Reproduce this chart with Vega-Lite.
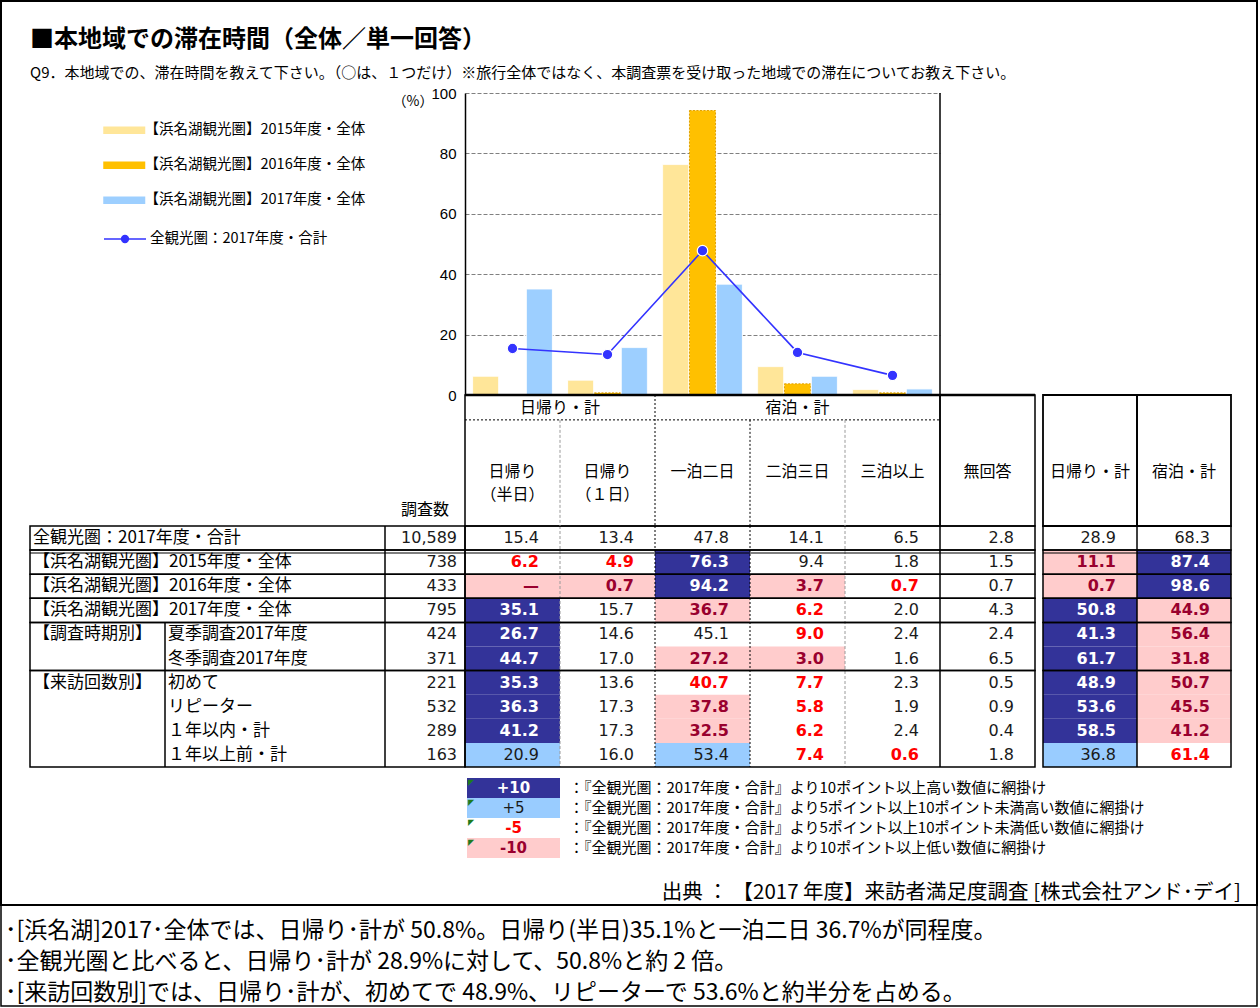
{
"$schema": "https://vega.github.io/schema/vega-lite/v6.json",
"width": 1260,
"height": 1008,
"autosize": "none",
"padding": 0,
"background": "#ffffff",
"config": {"font": "Noto Sans CJK JP", "view": {"stroke": null}},
"title": {
  "text": "■本地域での滞在時間（全体／単一回答）",
  "subtitle": "　　Q9．本地域での、滞在時間を教えて下さい。（○は、１つだけ）※旅行全体ではなく、本調査票を受け取った地域での滞在についてお教え下さい。",
  "anchor": "start", "frame": "group", "orient": "top", "offset": -81, "dx": 30,
  "font": "Noto Sans CJK JP", "fontSize": 24, "fontWeight": "bold", "color": "#000000",
  "subtitleFont": "Noto Sans CJK JP", "subtitleFontSize": 15, "subtitleColor": "#000000", "subtitlePadding": 14
},
"datasets": {
  "bars": [
    {"cat":"日帰り（半日）","series":"【浜名湖観光圏】2015年度・全体","v":6.2},
    {"cat":"日帰り（半日）","series":"【浜名湖観光圏】2016年度・全体","v":0},
    {"cat":"日帰り（半日）","series":"【浜名湖観光圏】2017年度・全体","v":35.1},
    {"cat":"日帰り（1日）","series":"【浜名湖観光圏】2015年度・全体","v":4.9},
    {"cat":"日帰り（1日）","series":"【浜名湖観光圏】2016年度・全体","v":0.7},
    {"cat":"日帰り（1日）","series":"【浜名湖観光圏】2017年度・全体","v":15.7},
    {"cat":"一泊二日","series":"【浜名湖観光圏】2015年度・全体","v":76.3},
    {"cat":"一泊二日","series":"【浜名湖観光圏】2016年度・全体","v":94.2},
    {"cat":"一泊二日","series":"【浜名湖観光圏】2017年度・全体","v":36.7},
    {"cat":"二泊三日","series":"【浜名湖観光圏】2015年度・全体","v":9.4},
    {"cat":"二泊三日","series":"【浜名湖観光圏】2016年度・全体","v":3.7},
    {"cat":"二泊三日","series":"【浜名湖観光圏】2017年度・全体","v":6.2},
    {"cat":"三泊以上","series":"【浜名湖観光圏】2015年度・全体","v":1.8},
    {"cat":"三泊以上","series":"【浜名湖観光圏】2016年度・全体","v":0.7},
    {"cat":"三泊以上","series":"【浜名湖観光圏】2017年度・全体","v":2.0}
  ],
  "line": [
    {"cat":"日帰り（半日）","series":"全観光圏：2017年度・合計","v":15.4},
    {"cat":"日帰り（1日）","series":"全観光圏：2017年度・合計","v":13.4},
    {"cat":"一泊二日","series":"全観光圏：2017年度・合計","v":47.8},
    {"cat":"二泊三日","series":"全観光圏：2017年度・合計","v":14.1},
    {"cat":"三泊以上","series":"全観光圏：2017年度・合計","v":6.5}
  ],
  "rows": [
    {"row":"全観光圏：2017年度・合計","a":"全観光圏：2017年度・合計","n":"10,589"},
    {"row":"【浜名湖観光圏】2015年度・全体","a":"【浜名湖観光圏】2015年度・全体","n":"738"},
    {"row":"【浜名湖観光圏】2016年度・全体","a":"【浜名湖観光圏】2016年度・全体","n":"433"},
    {"row":"【浜名湖観光圏】2017年度・全体","a":"【浜名湖観光圏】2017年度・全体","n":"795"},
    {"row":"夏季調査2017年度","a":"【調査時期別】","b":"夏季調査2017年度","n":"424"},
    {"row":"冬季調査2017年度","b":"冬季調査2017年度","n":"371"},
    {"row":"初めて","a":"【来訪回数別】","b":"初めて","n":"221"},
    {"row":"リピーター","b":"リピーター","n":"532"},
    {"row":"　１年以内・計","b":"　１年以内・計","n":"289"},
    {"row":"　１年以上前・計","b":"　１年以上前・計","n":"163"}
  ],
  "groups": [
    {"from":"全観光圏：2017年度・合計","to":"全観光圏：2017年度・合計"},
    {"from":"【浜名湖観光圏】2015年度・全体","to":"【浜名湖観光圏】2015年度・全体"},
    {"from":"【浜名湖観光圏】2016年度・全体","to":"【浜名湖観光圏】2016年度・全体"},
    {"from":"【浜名湖観光圏】2017年度・全体","to":"【浜名湖観光圏】2017年度・全体"},
    {"from":"夏季調査2017年度","to":"冬季調査2017年度"},
    {"from":"初めて","to":"　１年以上前・計"}
  ],
  "cells": [
    {"row":"全観光圏：2017年度・合計","col":"日帰り（半日）","v":"15.4","shade":"none"},
    {"row":"全観光圏：2017年度・合計","col":"日帰り（1日）","v":"13.4","shade":"none"},
    {"row":"全観光圏：2017年度・合計","col":"一泊二日","v":"47.8","shade":"none"},
    {"row":"全観光圏：2017年度・合計","col":"二泊三日","v":"14.1","shade":"none"},
    {"row":"全観光圏：2017年度・合計","col":"三泊以上","v":"6.5","shade":"none"},
    {"row":"全観光圏：2017年度・合計","col":"無回答","v":"2.8","shade":"none"},
    {"row":"【浜名湖観光圏】2015年度・全体","col":"日帰り（半日）","v":"6.2","shade":"-5"},
    {"row":"【浜名湖観光圏】2015年度・全体","col":"日帰り（1日）","v":"4.9","shade":"-5"},
    {"row":"【浜名湖観光圏】2015年度・全体","col":"一泊二日","v":"76.3","shade":"+10"},
    {"row":"【浜名湖観光圏】2015年度・全体","col":"二泊三日","v":"9.4","shade":"none"},
    {"row":"【浜名湖観光圏】2015年度・全体","col":"三泊以上","v":"1.8","shade":"none"},
    {"row":"【浜名湖観光圏】2015年度・全体","col":"無回答","v":"1.5","shade":"none"},
    {"row":"【浜名湖観光圏】2016年度・全体","col":"日帰り（半日）","v":"—","shade":"-10"},
    {"row":"【浜名湖観光圏】2016年度・全体","col":"日帰り（1日）","v":"0.7","shade":"-10"},
    {"row":"【浜名湖観光圏】2016年度・全体","col":"一泊二日","v":"94.2","shade":"+10"},
    {"row":"【浜名湖観光圏】2016年度・全体","col":"二泊三日","v":"3.7","shade":"-10"},
    {"row":"【浜名湖観光圏】2016年度・全体","col":"三泊以上","v":"0.7","shade":"-5"},
    {"row":"【浜名湖観光圏】2016年度・全体","col":"無回答","v":"0.7","shade":"none"},
    {"row":"【浜名湖観光圏】2017年度・全体","col":"日帰り（半日）","v":"35.1","shade":"+10"},
    {"row":"【浜名湖観光圏】2017年度・全体","col":"日帰り（1日）","v":"15.7","shade":"none"},
    {"row":"【浜名湖観光圏】2017年度・全体","col":"一泊二日","v":"36.7","shade":"-10"},
    {"row":"【浜名湖観光圏】2017年度・全体","col":"二泊三日","v":"6.2","shade":"-5"},
    {"row":"【浜名湖観光圏】2017年度・全体","col":"三泊以上","v":"2.0","shade":"none"},
    {"row":"【浜名湖観光圏】2017年度・全体","col":"無回答","v":"4.3","shade":"none"},
    {"row":"夏季調査2017年度","col":"日帰り（半日）","v":"26.7","shade":"+10"},
    {"row":"夏季調査2017年度","col":"日帰り（1日）","v":"14.6","shade":"none"},
    {"row":"夏季調査2017年度","col":"一泊二日","v":"45.1","shade":"none"},
    {"row":"夏季調査2017年度","col":"二泊三日","v":"9.0","shade":"-5"},
    {"row":"夏季調査2017年度","col":"三泊以上","v":"2.4","shade":"none"},
    {"row":"夏季調査2017年度","col":"無回答","v":"2.4","shade":"none"},
    {"row":"冬季調査2017年度","col":"日帰り（半日）","v":"44.7","shade":"+10"},
    {"row":"冬季調査2017年度","col":"日帰り（1日）","v":"17.0","shade":"none"},
    {"row":"冬季調査2017年度","col":"一泊二日","v":"27.2","shade":"-10"},
    {"row":"冬季調査2017年度","col":"二泊三日","v":"3.0","shade":"-10"},
    {"row":"冬季調査2017年度","col":"三泊以上","v":"1.6","shade":"none"},
    {"row":"冬季調査2017年度","col":"無回答","v":"6.5","shade":"none"},
    {"row":"初めて","col":"日帰り（半日）","v":"35.3","shade":"+10"},
    {"row":"初めて","col":"日帰り（1日）","v":"13.6","shade":"none"},
    {"row":"初めて","col":"一泊二日","v":"40.7","shade":"-5"},
    {"row":"初めて","col":"二泊三日","v":"7.7","shade":"-5"},
    {"row":"初めて","col":"三泊以上","v":"2.3","shade":"none"},
    {"row":"初めて","col":"無回答","v":"0.5","shade":"none"},
    {"row":"リピーター","col":"日帰り（半日）","v":"36.3","shade":"+10"},
    {"row":"リピーター","col":"日帰り（1日）","v":"17.3","shade":"none"},
    {"row":"リピーター","col":"一泊二日","v":"37.8","shade":"-10"},
    {"row":"リピーター","col":"二泊三日","v":"5.8","shade":"-5"},
    {"row":"リピーター","col":"三泊以上","v":"1.9","shade":"none"},
    {"row":"リピーター","col":"無回答","v":"0.9","shade":"none"},
    {"row":"　１年以内・計","col":"日帰り（半日）","v":"41.2","shade":"+10"},
    {"row":"　１年以内・計","col":"日帰り（1日）","v":"17.3","shade":"none"},
    {"row":"　１年以内・計","col":"一泊二日","v":"32.5","shade":"-10"},
    {"row":"　１年以内・計","col":"二泊三日","v":"6.2","shade":"-5"},
    {"row":"　１年以内・計","col":"三泊以上","v":"2.4","shade":"none"},
    {"row":"　１年以内・計","col":"無回答","v":"0.4","shade":"none"},
    {"row":"　１年以上前・計","col":"日帰り（半日）","v":"20.9","shade":"+5"},
    {"row":"　１年以上前・計","col":"日帰り（1日）","v":"16.0","shade":"none"},
    {"row":"　１年以上前・計","col":"一泊二日","v":"53.4","shade":"+5"},
    {"row":"　１年以上前・計","col":"二泊三日","v":"7.4","shade":"-5"},
    {"row":"　１年以上前・計","col":"三泊以上","v":"0.6","shade":"-5"},
    {"row":"　１年以上前・計","col":"無回答","v":"1.8","shade":"none"}
  ],
  "totals": [
    {"row":"全観光圏：2017年度・合計","col":"日帰り・計","v":"28.9","shade":"none"},
    {"row":"全観光圏：2017年度・合計","col":"宿泊・計","v":"68.3","shade":"none"},
    {"row":"【浜名湖観光圏】2015年度・全体","col":"日帰り・計","v":"11.1","shade":"-10"},
    {"row":"【浜名湖観光圏】2015年度・全体","col":"宿泊・計","v":"87.4","shade":"+10"},
    {"row":"【浜名湖観光圏】2016年度・全体","col":"日帰り・計","v":"0.7","shade":"-10"},
    {"row":"【浜名湖観光圏】2016年度・全体","col":"宿泊・計","v":"98.6","shade":"+10"},
    {"row":"【浜名湖観光圏】2017年度・全体","col":"日帰り・計","v":"50.8","shade":"+10"},
    {"row":"【浜名湖観光圏】2017年度・全体","col":"宿泊・計","v":"44.9","shade":"-10"},
    {"row":"夏季調査2017年度","col":"日帰り・計","v":"41.3","shade":"+10"},
    {"row":"夏季調査2017年度","col":"宿泊・計","v":"56.4","shade":"-10"},
    {"row":"冬季調査2017年度","col":"日帰り・計","v":"61.7","shade":"+10"},
    {"row":"冬季調査2017年度","col":"宿泊・計","v":"31.8","shade":"-10"},
    {"row":"初めて","col":"日帰り・計","v":"48.9","shade":"+10"},
    {"row":"初めて","col":"宿泊・計","v":"50.7","shade":"-10"},
    {"row":"リピーター","col":"日帰り・計","v":"53.6","shade":"+10"},
    {"row":"リピーター","col":"宿泊・計","v":"45.5","shade":"-10"},
    {"row":"　１年以内・計","col":"日帰り・計","v":"58.5","shade":"+10"},
    {"row":"　１年以内・計","col":"宿泊・計","v":"41.2","shade":"-10"},
    {"row":"　１年以上前・計","col":"日帰り・計","v":"36.8","shade":"+5"},
    {"row":"　１年以上前・計","col":"宿泊・計","v":"61.4","shade":"-5"}
  ],
  "colheads": [
    {"col":"日帰り（半日）","label":"日帰り\n（半日）"},
    {"col":"日帰り（1日）","label":"日帰り\n（１日）"},
    {"col":"一泊二日","label":"一泊二日"},
    {"col":"二泊三日","label":"二泊三日"},
    {"col":"三泊以上","label":"三泊以上"},
    {"col":"無回答","label":"無回答"}
  ],
  "key": [
    {"k":"+10","desc":"：『全観光圏：2017年度・合計』より10ポイント以上高い数値に網掛け"},
    {"k":"+5","desc":"：『全観光圏：2017年度・合計』より5ポイント以上10ポイント未満高い数値に網掛け"},
    {"k":"-5","desc":"：『全観光圏：2017年度・合計』より5ポイント以上10ポイント未満低い数値に網掛け"},
    {"k":"-10","desc":"：『全観光圏：2017年度・合計』より10ポイント以上低い数値に網掛け"}
  ],
  "notes": [
    {"line":"･[浜名湖]2017･全体では、日帰り･計が 50.8%。日帰り(半日)35.1%と一泊二日 36.7%が同程度。"},
    {"line":"･全観光圏と比べると、日帰り･計が 28.9%に対して、50.8%と約 2 倍。"},
    {"line":"･[来訪回数別]では、日帰り･計が、初めてで 48.9%、リピーターで 53.6%と約半分を占める。"}
  ]
},
"resolve": {"scale": {"x": "independent", "y": "independent", "fill": "independent", "color": "independent", "stroke": "independent"}},
"layer": [
  {"data": {"values": [{"part": "本体"}]},
   "mark": {"type": "rect", "filled": false, "stroke": "#000000", "strokeWidth": 2},
   "encoding": {
     "x": {"field": "part", "type": "nominal", "scale": {"type": "band", "domain": ["本体"], "range": [1, 1257], "padding": 0}, "axis": null},
     "y": {"field": "part", "type": "nominal", "scale": {"type": "band", "domain": ["本体"], "range": [1, 905], "padding": 0}, "axis": null}}},
  {"data": {"values": [{"part": "注記"}]},
   "mark": {"type": "rect", "filled": false, "stroke": "#000000", "strokeWidth": 1.5},
   "encoding": {
     "x": {"field": "part", "type": "nominal", "scale": {"type": "band", "domain": ["注記"], "range": [1, 1257], "padding": 0}, "axis": null},
     "y": {"field": "part", "type": "nominal", "scale": {"type": "band", "domain": ["注記"], "range": [905, 1006], "padding": 0}, "axis": null}}},

  {"layer": [
    {"data": {"name": "bars"},
     "mark": {"type": "bar", "strokeWidth": 1},
     "encoding": {
       "x": {"field": "cat", "type": "nominal", "scale": {"type": "band", "domain": ["日帰り（半日）","日帰り（1日）","一泊二日","二泊三日","三泊以上"], "range": [465, 940], "paddingInner": 0.16, "paddingOuter": 0.08}, "axis": null},
       "xOffset": {"field": "series", "type": "nominal", "scale": {"domain": ["【浜名湖観光圏】2015年度・全体","【浜名湖観光圏】2016年度・全体","【浜名湖観光圏】2017年度・全体"], "paddingInner": 0.03}},
       "y": {"field": "v", "type": "quantitative", "scale": {"domain": [0, 100], "range": [395, 93], "nice": false, "zero": true},
             "axis": {"orient": "left", "offset": -465, "values": [0,20,40,60,80,100], "grid": true, "gridColor": "#808080", "gridDash": [4,2], "gridWidth": 1, "ticks": false, "tickSize": 0, "domain": true, "domainColor": "#000000", "domainWidth": 1.5, "labelFont": "Liberation Sans", "labelFontSize": 15, "labelColor": "#000000", "labelPadding": 9, "title": "（%）", "titleFont": "Noto Sans CJK JP", "titleFontSize": 14, "titleFontWeight": "normal", "titleAngle": 0, "titleAlign": "right", "titleBaseline": "middle", "titleX": -32, "titleY": 101, "titleColor": "#000000"}},
       "fill": {"field": "series", "type": "nominal", "scale": {"domain": ["【浜名湖観光圏】2015年度・全体","【浜名湖観光圏】2016年度・全体","【浜名湖観光圏】2017年度・全体"], "range": ["#ffe699","#ffc000","#9dcfff"]},
                "legend": {"orient": "none", "legendX": 117, "legendY": 123, "title": null, "symbolType": "M-3,-0.55H3V0.55H-3Z", "symbolSize": 196, "symbolStrokeWidth": 0, "labelFont": "Noto Sans CJK JP", "labelFontSize": 14.5, "labelColor": "#000000", "labelOffset": 13, "rowPadding": 20, "labelLimit": 400}},
       "stroke": {"condition": {"test": "datum.series === '【浜名湖観光圏】2016年度・全体'", "value": "#e0a000"}, "value": "#ffffff"},
       "strokeDash": {"condition": {"test": "datum.series === '【浜名湖観光圏】2016年度・全体'", "value": [2, 1.5]}, "value": [1, 0]}}},
    {"data": {"name": "line"},
     "mark": {"type": "line", "strokeWidth": 1.6},
     "encoding": {
       "x": {"field": "cat", "type": "nominal", "scale": {"type": "band", "domain": ["日帰り（半日）","日帰り（1日）","一泊二日","二泊三日","三泊以上"], "range": [465, 940], "paddingInner": 0.16, "paddingOuter": 0.08}, "axis": null},
       "y": {"field": "v", "type": "quantitative", "scale": {"domain": [0, 100], "range": [395, 93], "nice": false, "zero": true},
             "axis": {"orient": "left", "offset": -465, "values": [0,20,40,60,80,100], "grid": true, "gridColor": "#808080", "gridDash": [4,2], "gridWidth": 1, "ticks": false, "tickSize": 0, "domain": true, "domainColor": "#000000", "domainWidth": 1.5, "labelFont": "Liberation Sans", "labelFontSize": 15, "labelColor": "#000000", "labelPadding": 9, "title": "（%）", "titleFont": "Noto Sans CJK JP", "titleFontSize": 14, "titleFontWeight": "normal", "titleAngle": 0, "titleAlign": "right", "titleBaseline": "middle", "titleX": -32, "titleY": 101, "titleColor": "#000000"}},
       "stroke": {"field": "series", "type": "nominal", "scale": {"domain": ["全観光圏：2017年度・合計"], "range": ["#3333ff"]},
                  "legend": {"orient": "none", "legendX": 117, "legendY": 231, "title": null, "symbolType": "M-3,0H3M-0.5,0A0.5,0.5,0,1,1,0.5,0A0.5,0.5,0,1,1,-0.5,0Z", "symbolSize": 196, "symbolStrokeWidth": 1.3, "symbolStrokeColor": "#3333ff", "symbolFillColor": "#3333ff", "labelFont": "Noto Sans CJK JP", "labelFontSize": 14.5, "labelColor": "#000000", "labelOffset": 17, "labelLimit": 400}}}},
    {"data": {"name": "line"},
     "mark": {"type": "point", "filled": true, "color": "#3333ff", "stroke": "#ffffff", "strokeWidth": 1.2, "size": 110, "opacity": 1},
     "encoding": {
       "x": {"field": "cat", "type": "nominal", "scale": {"type": "band", "domain": ["日帰り（半日）","日帰り（1日）","一泊二日","二泊三日","三泊以上"], "range": [465, 940], "paddingInner": 0.16, "paddingOuter": 0.08}, "axis": null},
       "y": {"field": "v", "type": "quantitative", "scale": {"domain": [0, 100], "range": [395, 93], "nice": false, "zero": true},
             "axis": {"orient": "left", "offset": -465, "values": [0,20,40,60,80,100], "grid": true, "gridColor": "#808080", "gridDash": [4,2], "gridWidth": 1, "ticks": false, "tickSize": 0, "domain": true, "domainColor": "#000000", "domainWidth": 1.5, "labelFont": "Liberation Sans", "labelFontSize": 15, "labelColor": "#000000", "labelPadding": 9, "title": "（%）", "titleFont": "Noto Sans CJK JP", "titleFontSize": 14, "titleFontWeight": "normal", "titleAngle": 0, "titleAlign": "right", "titleBaseline": "middle", "titleX": -32, "titleY": 101, "titleColor": "#000000"}}}}
  ]},

  {"data": {"values": [{"col": "無回答"}]},
   "mark": {"type": "rule", "color": "#000000", "strokeWidth": 1.5},
   "encoding": {
     "x": {"field": "col", "type": "nominal", "bandPosition": 0, "scale": {"type":"band","domain":["日帰り（半日）","日帰り（1日）","一泊二日","二泊三日","三泊以上","無回答"],"range":[465,1035],"padding":0}, "axis": null},
     "y": {"datum": 0, "type": "quantitative", "scale": {"domain": [0, 100], "range": [395, 93], "nice": false, "zero": true}, "axis": null},
     "y2": {"datum": 100}}},

  {"layer": [
    {"data": {"name": "cells"},
     "mark": {"type": "rect"},
     "encoding": {
       "x": {"field": "col", "type": "nominal", "scale": {"type":"band","domain":["日帰り（半日）","日帰り（1日）","一泊二日","二泊三日","三泊以上","無回答"],"range":[465,1035],"padding":0}, "axis": null},
       "y": {"field": "row", "type": "nominal", "scale": {"type":"band","domain":["全観光圏：2017年度・合計","【浜名湖観光圏】2015年度・全体","【浜名湖観光圏】2016年度・全体","【浜名湖観光圏】2017年度・全体","夏季調査2017年度","冬季調査2017年度","初めて","リピーター","　１年以内・計","　１年以上前・計"],"range":[526,767],"padding":0}, "axis": null},
       "fill": {"field": "shade", "type": "nominal", "scale": {"domain": ["none","+10","+5","-5","-10"], "range": ["#ffffff","#333399","#99ccff","#ffffff","#ffcccc"]}, "legend": null}}},
    {"data": {"name": "cells"},
     "transform": [{"filter": "datum.shade === 'none' || datum.shade === '+5'"}],
     "mark": {"type": "text", "align": "right", "dx": -21, "font": "DejaVu Sans", "fontSize": 16},
     "encoding": {
       "x": {"field": "col", "type": "nominal", "bandPosition": 1, "scale": {"type":"band","domain":["日帰り（半日）","日帰り（1日）","一泊二日","二泊三日","三泊以上","無回答"],"range":[465,1035],"padding":0}, "axis": null},
       "y": {"field": "row", "type": "nominal", "scale": {"type":"band","domain":["全観光圏：2017年度・合計","【浜名湖観光圏】2015年度・全体","【浜名湖観光圏】2016年度・全体","【浜名湖観光圏】2017年度・全体","夏季調査2017年度","冬季調査2017年度","初めて","リピーター","　１年以内・計","　１年以上前・計"],"range":[526,767],"padding":0}, "axis": null},
       "text": {"field": "v"},
       "color": {"field": "shade", "type": "nominal", "scale": {"domain": ["none","+10","+5","-5","-10"], "range": ["#1a1a1a","#ffffff","#1a1a1a","#ff0000","#99002e"]}, "legend": null}}},
    {"data": {"name": "cells"},
     "transform": [{"filter": "datum.shade !== 'none' && datum.shade !== '+5'"}],
     "mark": {"type": "text", "align": "right", "dx": -21, "font": "DejaVu Sans", "fontSize": 16, "fontWeight": "bold"},
     "encoding": {
       "x": {"field": "col", "type": "nominal", "bandPosition": 1, "scale": {"type":"band","domain":["日帰り（半日）","日帰り（1日）","一泊二日","二泊三日","三泊以上","無回答"],"range":[465,1035],"padding":0}, "axis": null},
       "y": {"field": "row", "type": "nominal", "scale": {"type":"band","domain":["全観光圏：2017年度・合計","【浜名湖観光圏】2015年度・全体","【浜名湖観光圏】2016年度・全体","【浜名湖観光圏】2017年度・全体","夏季調査2017年度","冬季調査2017年度","初めて","リピーター","　１年以内・計","　１年以上前・計"],"range":[526,767],"padding":0}, "axis": null},
       "text": {"field": "v"},
       "color": {"field": "shade", "type": "nominal", "scale": {"domain": ["none","+10","+5","-5","-10"], "range": ["#1a1a1a","#ffffff","#1a1a1a","#ff0000","#99002e"]}, "legend": null}}},
    {"data": {"values": [{"col": "日帰り（1日）"}, {"col": "三泊以上"}]},
     "mark": {"type": "rule", "color": "#9a9a9a", "strokeDash": [3, 2], "strokeWidth": 1},
     "encoding": {
       "x": {"field": "col", "type": "nominal", "bandPosition": 0, "scale": {"type":"band","domain":["日帰り（半日）","日帰り（1日）","一泊二日","二泊三日","三泊以上","無回答"],"range":[465,1035],"padding":0}, "axis": null},
       "y": {"datum": "全観光圏：2017年度・合計", "type": "nominal", "bandPosition": 0, "scale": {"type":"band","domain":["全観光圏：2017年度・合計","【浜名湖観光圏】2015年度・全体","【浜名湖観光圏】2016年度・全体","【浜名湖観光圏】2017年度・全体","夏季調査2017年度","冬季調査2017年度","初めて","リピーター","　１年以内・計","　１年以上前・計"],"range":[526,767],"padding":0}, "axis": null},
       "y2": {"datum": "　１年以上前・計", "bandPosition": 1}}},
    {"data": {"values": [{"col": "一泊二日"}, {"col": "二泊三日"}]},
     "mark": {"type": "rule", "color": "#000000", "strokeDash": [2, 2], "strokeWidth": 1},
     "encoding": {
       "x": {"field": "col", "type": "nominal", "bandPosition": 0, "scale": {"type":"band","domain":["日帰り（半日）","日帰り（1日）","一泊二日","二泊三日","三泊以上","無回答"],"range":[465,1035],"padding":0}, "axis": null},
       "y": {"datum": "全観光圏：2017年度・合計", "type": "nominal", "bandPosition": 0, "scale": {"type":"band","domain":["全観光圏：2017年度・合計","【浜名湖観光圏】2015年度・全体","【浜名湖観光圏】2016年度・全体","【浜名湖観光圏】2017年度・全体","夏季調査2017年度","冬季調査2017年度","初めて","リピーター","　１年以内・計","　１年以上前・計"],"range":[526,767],"padding":0}, "axis": null},
       "y2": {"datum": "　１年以上前・計", "bandPosition": 1}}},
    {"data": {"name": "groups"},
     "mark": {"type": "rect", "filled": false, "stroke": "#000000", "strokeWidth": 1.5},
     "encoding": {
       "x": {"datum": "日帰り（半日）", "type": "nominal", "bandPosition": 0, "scale": {"type":"band","domain":["日帰り（半日）","日帰り（1日）","一泊二日","二泊三日","三泊以上","無回答"],"range":[465,1035],"padding":0}, "axis": null},
       "x2": {"datum": "無回答", "bandPosition": 1},
       "y": {"field": "from", "type": "nominal", "bandPosition": 0, "scale": {"type":"band","domain":["全観光圏：2017年度・合計","【浜名湖観光圏】2015年度・全体","【浜名湖観光圏】2016年度・全体","【浜名湖観光圏】2017年度・全体","夏季調査2017年度","冬季調査2017年度","初めて","リピーター","　１年以内・計","　１年以上前・計"],"range":[526,767],"padding":0}, "axis": null},
       "y2": {"field": "to", "bandPosition": 1}}},
    {"data": {"values": [{"col": "無回答"}]},
     "mark": {"type": "rule", "color": "#000000", "strokeWidth": 1.5},
     "encoding": {
       "x": {"field": "col", "type": "nominal", "bandPosition": 0, "scale": {"type":"band","domain":["日帰り（半日）","日帰り（1日）","一泊二日","二泊三日","三泊以上","無回答"],"range":[465,1035],"padding":0}, "axis": null},
       "y": {"datum": "全観光圏：2017年度・合計", "type": "nominal", "bandPosition": 0, "scale": {"type":"band","domain":["全観光圏：2017年度・合計","【浜名湖観光圏】2015年度・全体","【浜名湖観光圏】2016年度・全体","【浜名湖観光圏】2017年度・全体","夏季調査2017年度","冬季調査2017年度","初めて","リピーター","　１年以内・計","　１年以上前・計"],"range":[526,767],"padding":0}, "axis": null},
       "y2": {"datum": "　１年以上前・計", "bandPosition": 1}}},
    {"data": {"values": [{"row": "【浜名湖観光圏】2015年度・全体"}]},
     "mark": {"type": "rule", "color": "#000000", "strokeWidth": 1.2},
     "encoding": {
       "x": {"datum": "日帰り（半日）", "type": "nominal", "bandPosition": 0, "scale": {"type":"band","domain":["日帰り（半日）","日帰り（1日）","一泊二日","二泊三日","三泊以上","無回答"],"range":[465,1035],"padding":0}, "axis": null},
       "x2": {"datum": "無回答", "bandPosition": 1},
       "y": {"field": "row", "type": "nominal", "bandPosition": 0.12, "scale": {"type":"band","domain":["全観光圏：2017年度・合計","【浜名湖観光圏】2015年度・全体","【浜名湖観光圏】2016年度・全体","【浜名湖観光圏】2017年度・全体","夏季調査2017年度","冬季調査2017年度","初めて","リピーター","　１年以内・計","　１年以上前・計"],"range":[526,767],"padding":0}, "axis": null}}}
  ]},

  {"layer": [
    {"data": {"name": "totals"},
     "mark": {"type": "rect"},
     "encoding": {
       "x": {"field": "col", "type": "nominal", "scale": {"type":"band","domain":["日帰り・計","宿泊・計"],"range":[1043,1231],"padding":0}, "axis": null},
       "y": {"field": "row", "type": "nominal", "scale": {"type":"band","domain":["全観光圏：2017年度・合計","【浜名湖観光圏】2015年度・全体","【浜名湖観光圏】2016年度・全体","【浜名湖観光圏】2017年度・全体","夏季調査2017年度","冬季調査2017年度","初めて","リピーター","　１年以内・計","　１年以上前・計"],"range":[526,767],"padding":0}, "axis": null},
       "fill": {"field": "shade", "type": "nominal", "scale": {"domain": ["none","+10","+5","-5","-10"], "range": ["#ffffff","#333399","#99ccff","#ffffff","#ffcccc"]}, "legend": null}}},
    {"data": {"name": "totals"},
     "transform": [{"filter": "datum.shade === 'none' || datum.shade === '+5'"}],
     "mark": {"type": "text", "align": "right", "dx": -21, "font": "DejaVu Sans", "fontSize": 16},
     "encoding": {
       "x": {"field": "col", "type": "nominal", "bandPosition": 1, "scale": {"type":"band","domain":["日帰り・計","宿泊・計"],"range":[1043,1231],"padding":0}, "axis": null},
       "y": {"field": "row", "type": "nominal", "scale": {"type":"band","domain":["全観光圏：2017年度・合計","【浜名湖観光圏】2015年度・全体","【浜名湖観光圏】2016年度・全体","【浜名湖観光圏】2017年度・全体","夏季調査2017年度","冬季調査2017年度","初めて","リピーター","　１年以内・計","　１年以上前・計"],"range":[526,767],"padding":0}, "axis": null},
       "text": {"field": "v"},
       "color": {"field": "shade", "type": "nominal", "scale": {"domain": ["none","+10","+5","-5","-10"], "range": ["#1a1a1a","#ffffff","#1a1a1a","#ff0000","#99002e"]}, "legend": null}}},
    {"data": {"name": "totals"},
     "transform": [{"filter": "datum.shade !== 'none' && datum.shade !== '+5'"}],
     "mark": {"type": "text", "align": "right", "dx": -21, "font": "DejaVu Sans", "fontSize": 16, "fontWeight": "bold"},
     "encoding": {
       "x": {"field": "col", "type": "nominal", "bandPosition": 1, "scale": {"type":"band","domain":["日帰り・計","宿泊・計"],"range":[1043,1231],"padding":0}, "axis": null},
       "y": {"field": "row", "type": "nominal", "scale": {"type":"band","domain":["全観光圏：2017年度・合計","【浜名湖観光圏】2015年度・全体","【浜名湖観光圏】2016年度・全体","【浜名湖観光圏】2017年度・全体","夏季調査2017年度","冬季調査2017年度","初めて","リピーター","　１年以内・計","　１年以上前・計"],"range":[526,767],"padding":0}, "axis": null},
       "text": {"field": "v"},
       "color": {"field": "shade", "type": "nominal", "scale": {"domain": ["none","+10","+5","-5","-10"], "range": ["#1a1a1a","#ffffff","#1a1a1a","#ff0000","#99002e"]}, "legend": null}}},
    {"data": {"name": "groups"},
     "mark": {"type": "rect", "filled": false, "stroke": "#000000", "strokeWidth": 1.5},
     "encoding": {
       "x": {"datum": "日帰り・計", "type": "nominal", "bandPosition": 0, "scale": {"type":"band","domain":["日帰り・計","宿泊・計"],"range":[1043,1231],"padding":0}, "axis": null},
       "x2": {"datum": "宿泊・計", "bandPosition": 1},
       "y": {"field": "from", "type": "nominal", "bandPosition": 0, "scale": {"type":"band","domain":["全観光圏：2017年度・合計","【浜名湖観光圏】2015年度・全体","【浜名湖観光圏】2016年度・全体","【浜名湖観光圏】2017年度・全体","夏季調査2017年度","冬季調査2017年度","初めて","リピーター","　１年以内・計","　１年以上前・計"],"range":[526,767],"padding":0}, "axis": null},
       "y2": {"field": "to", "bandPosition": 1}}},
    {"data": {"values": [{"col": "宿泊・計"}]},
     "mark": {"type": "rule", "color": "#000000", "strokeWidth": 1.5},
     "encoding": {
       "x": {"field": "col", "type": "nominal", "bandPosition": 0, "scale": {"type":"band","domain":["日帰り・計","宿泊・計"],"range":[1043,1231],"padding":0}, "axis": null},
       "y": {"datum": "全観光圏：2017年度・合計", "type": "nominal", "bandPosition": 0, "scale": {"type":"band","domain":["全観光圏：2017年度・合計","【浜名湖観光圏】2015年度・全体","【浜名湖観光圏】2016年度・全体","【浜名湖観光圏】2017年度・全体","夏季調査2017年度","冬季調査2017年度","初めて","リピーター","　１年以内・計","　１年以上前・計"],"range":[526,767],"padding":0}, "axis": null},
       "y2": {"datum": "　１年以上前・計", "bandPosition": 1}}},
    {"data": {"values": [{"row": "【浜名湖観光圏】2015年度・全体"}]},
     "mark": {"type": "rule", "color": "#000000", "strokeWidth": 1.2},
     "encoding": {
       "x": {"datum": "日帰り・計", "type": "nominal", "bandPosition": 0, "scale": {"type":"band","domain":["日帰り・計","宿泊・計"],"range":[1043,1231],"padding":0}, "axis": null},
       "x2": {"datum": "宿泊・計", "bandPosition": 1},
       "y": {"field": "row", "type": "nominal", "bandPosition": 0.12, "scale": {"type":"band","domain":["全観光圏：2017年度・合計","【浜名湖観光圏】2015年度・全体","【浜名湖観光圏】2016年度・全体","【浜名湖観光圏】2017年度・全体","夏季調査2017年度","冬季調査2017年度","初めて","リピーター","　１年以内・計","　１年以上前・計"],"range":[526,767],"padding":0}, "axis": null}}}
  ]},

  {"resolve": {"scale": {"x": "independent"}},
   "layer": [
    {"data": {"name": "rows"},
     "transform": [{"filter": "datum.a"}],
     "mark": {"type": "text", "align": "left", "dx": 3, "font": "Noto Sans CJK JP", "fontSize": 17, "color": "#000000"},
     "encoding": {
       "x": {"datum": "区分", "type": "nominal", "bandPosition": 0, "scale": {"type": "band", "domain": ["区分"], "range": [30, 165], "padding": 0}, "axis": null},
       "y": {"field": "row", "type": "nominal", "scale": {"type":"band","domain":["全観光圏：2017年度・合計","【浜名湖観光圏】2015年度・全体","【浜名湖観光圏】2016年度・全体","【浜名湖観光圏】2017年度・全体","夏季調査2017年度","冬季調査2017年度","初めて","リピーター","　１年以内・計","　１年以上前・計"],"range":[526,767],"padding":0}, "axis": null},
       "text": {"field": "a"}}},
    {"data": {"name": "rows"},
     "transform": [{"filter": "datum.b"}],
     "mark": {"type": "text", "align": "left", "dx": 3, "font": "Noto Sans CJK JP", "fontSize": 17, "color": "#000000"},
     "encoding": {
       "x": {"datum": "内訳", "type": "nominal", "bandPosition": 0, "scale": {"type": "band", "domain": ["内訳"], "range": [165, 385], "padding": 0}, "axis": null},
       "y": {"field": "row", "type": "nominal", "scale": {"type":"band","domain":["全観光圏：2017年度・合計","【浜名湖観光圏】2015年度・全体","【浜名湖観光圏】2016年度・全体","【浜名湖観光圏】2017年度・全体","夏季調査2017年度","冬季調査2017年度","初めて","リピーター","　１年以内・計","　１年以上前・計"],"range":[526,767],"padding":0}, "axis": null},
       "text": {"field": "b"}}},
    {"data": {"name": "rows"},
     "mark": {"type": "text", "align": "right", "dx": -8, "font": "DejaVu Sans", "fontSize": 16, "color": "#1a1a1a"},
     "encoding": {
       "x": {"datum": "調査数", "type": "nominal", "bandPosition": 1, "scale": {"type": "band", "domain": ["調査数"], "range": [385, 465], "padding": 0}, "axis": null},
       "y": {"field": "row", "type": "nominal", "scale": {"type":"band","domain":["全観光圏：2017年度・合計","【浜名湖観光圏】2015年度・全体","【浜名湖観光圏】2016年度・全体","【浜名湖観光圏】2017年度・全体","夏季調査2017年度","冬季調査2017年度","初めて","リピーター","　１年以内・計","　１年以上前・計"],"range":[526,767],"padding":0}, "axis": null},
       "text": {"field": "n"}}},
    {"data": {"name": "groups"},
     "mark": {"type": "rect", "filled": false, "stroke": "#000000", "strokeWidth": 1.5},
     "encoding": {
       "x": {"datum": "区分", "type": "nominal", "bandPosition": 0, "scale": {"type": "band", "domain": ["区分", "内訳", "調査数"], "range": [30, 465], "padding": 0}, "axis": null},
       "x2": {"datum": "調査数", "bandPosition": 1},
       "y": {"field": "from", "type": "nominal", "bandPosition": 0, "scale": {"type":"band","domain":["全観光圏：2017年度・合計","【浜名湖観光圏】2015年度・全体","【浜名湖観光圏】2016年度・全体","【浜名湖観光圏】2017年度・全体","夏季調査2017年度","冬季調査2017年度","初めて","リピーター","　１年以内・計","　１年以上前・計"],"range":[526,767],"padding":0}, "axis": null},
       "y2": {"field": "to", "bandPosition": 1}}},
    {"data": {"values": [{"c": "調査数"}]},
     "mark": {"type": "rule", "color": "#000000", "strokeWidth": 1.5},
     "encoding": {
       "x": {"field": "c", "type": "nominal", "bandPosition": 0, "scale": {"type": "band", "domain": ["調査数"], "range": [385, 465], "padding": 0}, "axis": null},
       "y": {"datum": "全観光圏：2017年度・合計", "type": "nominal", "bandPosition": 0, "scale": {"type":"band","domain":["全観光圏：2017年度・合計","【浜名湖観光圏】2015年度・全体","【浜名湖観光圏】2016年度・全体","【浜名湖観光圏】2017年度・全体","夏季調査2017年度","冬季調査2017年度","初めて","リピーター","　１年以内・計","　１年以上前・計"],"range":[526,767],"padding":0}, "axis": null},
       "y2": {"datum": "　１年以上前・計", "bandPosition": 1}}},
    {"data": {"values": [{"c": "内訳"}]},
     "mark": {"type": "rule", "color": "#000000", "strokeWidth": 1.5},
     "encoding": {
       "x": {"field": "c", "type": "nominal", "bandPosition": 0, "scale": {"type": "band", "domain": ["内訳"], "range": [165, 385], "padding": 0}, "axis": null},
       "y": {"datum": "夏季調査2017年度", "type": "nominal", "bandPosition": 0, "scale": {"type":"band","domain":["全観光圏：2017年度・合計","【浜名湖観光圏】2015年度・全体","【浜名湖観光圏】2016年度・全体","【浜名湖観光圏】2017年度・全体","夏季調査2017年度","冬季調査2017年度","初めて","リピーター","　１年以内・計","　１年以上前・計"],"range":[526,767],"padding":0}, "axis": null},
       "y2": {"datum": "　１年以上前・計", "bandPosition": 1}}},
    {"data": {"values": [{"row": "【浜名湖観光圏】2015年度・全体"}]},
     "mark": {"type": "rule", "color": "#000000", "strokeWidth": 1.2},
     "encoding": {
       "x": {"datum": "区分", "type": "nominal", "bandPosition": 0, "scale": {"type": "band", "domain": ["区分", "内訳", "調査数"], "range": [30, 465], "padding": 0}, "axis": null},
       "x2": {"datum": "調査数", "bandPosition": 1},
       "y": {"field": "row", "type": "nominal", "bandPosition": 0.12, "scale": {"type":"band","domain":["全観光圏：2017年度・合計","【浜名湖観光圏】2015年度・全体","【浜名湖観光圏】2016年度・全体","【浜名湖観光圏】2017年度・全体","夏季調査2017年度","冬季調査2017年度","初めて","リピーター","　１年以内・計","　１年以上前・計"],"range":[526,767],"padding":0}, "axis": null}}}
  ]},

  {"layer": [
    {"data": {"values": [{"label": "日帰り・計", "at": "日帰り（1日）"}]},
     "mark": {"type": "text", "fontSize": 16, "color": "#000000"},
     "encoding": {
       "x": {"field": "at", "type": "nominal", "bandPosition": 0, "scale": {"type":"band","domain":["日帰り（半日）","日帰り（1日）","一泊二日","二泊三日","三泊以上","無回答"],"range":[465,1035],"padding":0}, "axis": null},
       "y": {"datum": "見出し", "type": "nominal", "bandPosition": 0.1, "scale": {"type":"band","domain":["見出し"],"range":[395,526],"padding":0}, "axis": null},
       "text": {"field": "label"}}},
    {"data": {"values": [{"label": "宿泊・計", "at": "二泊三日"}]},
     "mark": {"type": "text", "fontSize": 16, "color": "#000000"},
     "encoding": {
       "x": {"field": "at", "type": "nominal", "bandPosition": 0.5, "scale": {"type":"band","domain":["日帰り（半日）","日帰り（1日）","一泊二日","二泊三日","三泊以上","無回答"],"range":[465,1035],"padding":0}, "axis": null},
       "y": {"datum": "見出し", "type": "nominal", "bandPosition": 0.1, "scale": {"type":"band","domain":["見出し"],"range":[395,526],"padding":0}, "axis": null},
       "text": {"field": "label"}}},
    {"data": {"name": "colheads"},
     "mark": {"type": "text", "fontSize": 16, "lineBreak": "\n", "lineHeight": 23, "color": "#000000"},
     "encoding": {
       "x": {"field": "col", "type": "nominal", "bandPosition": 0.5, "scale": {"type":"band","domain":["日帰り（半日）","日帰り（1日）","一泊二日","二泊三日","三泊以上","無回答"],"range":[465,1035],"padding":0}, "axis": null},
       "y": {"datum": "見出し", "type": "nominal", "bandPosition": 0.584, "scale": {"type":"band","domain":["見出し"],"range":[395,526],"padding":0}, "axis": null},
       "text": {"field": "label"}}},
    {"data": {"values": [{"from": "日帰り（半日）", "to": "三泊以上"}, {"from": "無回答", "to": "無回答"}]},
     "mark": {"type": "rect", "filled": false, "stroke": "#000000", "strokeWidth": 1.5},
     "encoding": {
       "x": {"field": "from", "type": "nominal", "bandPosition": 0, "scale": {"type":"band","domain":["日帰り（半日）","日帰り（1日）","一泊二日","二泊三日","三泊以上","無回答"],"range":[465,1035],"padding":0}, "axis": null},
       "x2": {"field": "to", "bandPosition": 1},
       "y": {"datum": "見出し", "type": "nominal", "bandPosition": 0, "scale": {"type":"band","domain":["見出し"],"range":[395,526],"padding":0}, "axis": null},
       "y2": {"datum": "見出し", "bandPosition": 1}}},
    {"data": {"values": [{"from": "日帰り（半日）", "to": "三泊以上"}]},
     "mark": {"type": "rule", "color": "#000000", "strokeDash": [2, 2], "strokeWidth": 1},
     "encoding": {
       "x": {"field": "from", "type": "nominal", "bandPosition": 0, "scale": {"type":"band","domain":["日帰り（半日）","日帰り（1日）","一泊二日","二泊三日","三泊以上","無回答"],"range":[465,1035],"padding":0}, "axis": null},
       "x2": {"field": "to", "bandPosition": 1},
       "y": {"datum": "見出し", "type": "nominal", "bandPosition": 0.19, "scale": {"type":"band","domain":["見出し"],"range":[395,526],"padding":0}, "axis": null}}},
    {"data": {"values": [{"from": "日帰り（半日）", "to": "無回答"}]},
     "mark": {"type": "rule", "color": "#000000", "strokeWidth": 2.5},
     "encoding": {
       "x": {"field": "from", "type": "nominal", "bandPosition": 0, "scale": {"type":"band","domain":["日帰り（半日）","日帰り（1日）","一泊二日","二泊三日","三泊以上","無回答"],"range":[465,1035],"padding":0}, "axis": null},
       "x2": {"field": "to", "bandPosition": 1},
       "y": {"datum": "見出し", "type": "nominal", "bandPosition": 0, "scale": {"type":"band","domain":["見出し"],"range":[395,526],"padding":0}, "axis": null}}},
    {"data": {"values": [{"col": "一泊二日"}]},
     "mark": {"type": "rule", "color": "#000000", "strokeDash": [2, 2], "strokeWidth": 1},
     "encoding": {
       "x": {"field": "col", "type": "nominal", "bandPosition": 0, "scale": {"type":"band","domain":["日帰り（半日）","日帰り（1日）","一泊二日","二泊三日","三泊以上","無回答"],"range":[465,1035],"padding":0}, "axis": null},
       "y": {"datum": "見出し", "type": "nominal", "bandPosition": 0, "scale": {"type":"band","domain":["見出し"],"range":[395,526],"padding":0}, "axis": null},
       "y2": {"datum": "見出し", "bandPosition": 1}}},
    {"data": {"values": [{"col": "二泊三日"}]},
     "mark": {"type": "rule", "color": "#000000", "strokeDash": [2, 2], "strokeWidth": 1},
     "encoding": {
       "x": {"field": "col", "type": "nominal", "bandPosition": 0, "scale": {"type":"band","domain":["日帰り（半日）","日帰り（1日）","一泊二日","二泊三日","三泊以上","無回答"],"range":[465,1035],"padding":0}, "axis": null},
       "y": {"datum": "見出し", "type": "nominal", "bandPosition": 0.19, "scale": {"type":"band","domain":["見出し"],"range":[395,526],"padding":0}, "axis": null},
       "y2": {"datum": "見出し", "bandPosition": 1}}},
    {"data": {"values": [{"col": "日帰り（1日）"}, {"col": "三泊以上"}]},
     "mark": {"type": "rule", "color": "#9a9a9a", "strokeDash": [3, 2], "strokeWidth": 1},
     "encoding": {
       "x": {"field": "col", "type": "nominal", "bandPosition": 0, "scale": {"type":"band","domain":["日帰り（半日）","日帰り（1日）","一泊二日","二泊三日","三泊以上","無回答"],"range":[465,1035],"padding":0}, "axis": null},
       "y": {"datum": "見出し", "type": "nominal", "bandPosition": 0.19, "scale": {"type":"band","domain":["見出し"],"range":[395,526],"padding":0}, "axis": null},
       "y2": {"datum": "見出し", "bandPosition": 1}}}
  ]},

  {"layer": [
    {"data": {"values": [{"col": "日帰り・計"}, {"col": "宿泊・計"}]},
     "mark": {"type": "text", "fontSize": 16, "color": "#000000"},
     "encoding": {
       "x": {"field": "col", "type": "nominal", "bandPosition": 0.5, "scale": {"type":"band","domain":["日帰り・計","宿泊・計"],"range":[1043,1231],"padding":0}, "axis": null},
       "y": {"datum": "見出し", "type": "nominal", "bandPosition": 0.584, "scale": {"type":"band","domain":["見出し"],"range":[395,526],"padding":0}, "axis": null},
       "text": {"field": "col"}}},
    {"data": {"values": [{"col": "日帰り・計"}, {"col": "宿泊・計"}]},
     "mark": {"type": "rect", "filled": false, "stroke": "#000000", "strokeWidth": 1.8},
     "encoding": {
       "x": {"field": "col", "type": "nominal", "scale": {"type":"band","domain":["日帰り・計","宿泊・計"],"range":[1043,1231],"padding":0}, "axis": null},
       "y": {"datum": "見出し", "type": "nominal", "scale": {"type":"band","domain":["見出し"],"range":[395,526],"padding":0}, "axis": null}}}
  ]},

  {"data": {"values": [{"label": "調査数"}]},
   "mark": {"type": "text", "fontSize": 16, "color": "#000000"},
   "encoding": {
     "x": {"datum": "調査数", "type": "nominal", "bandPosition": 0.5, "scale": {"type": "band", "domain": ["調査数"], "range": [385, 465], "padding": 0}, "axis": null},
     "y": {"datum": "見出し", "type": "nominal", "bandPosition": 0.878, "scale": {"type":"band","domain":["見出し"],"range":[395,526],"padding":0}, "axis": null},
     "text": {"field": "label"}}},

  {"layer": [
    {"data": {"name": "key"},
     "mark": {"type": "rect"},
     "encoding": {
       "x": {"datum": "凡例", "type": "nominal", "scale": {"type": "band", "domain": ["凡例"], "range": [467, 560], "padding": 0}, "axis": null},
       "y": {"field": "k", "type": "nominal", "scale": {"type": "band", "domain": ["+10","+5","-5","-10"], "range": [778, 858], "padding": 0}, "axis": null},
       "fill": {"field": "k", "type": "nominal", "scale": {"domain": ["none","+10","+5","-5","-10"], "range": ["#ffffff","#333399","#99ccff","#ffffff","#ffcccc"]}, "legend": null}}},
    {"data": {"name": "key"},
     "transform": [{"filter": "datum.k === '+5'"}],
     "mark": {"type": "text", "font": "DejaVu Sans", "fontSize": 15},
     "encoding": {
       "x": {"datum": "凡例", "type": "nominal", "bandPosition": 0.5, "scale": {"type": "band", "domain": ["凡例"], "range": [467, 560], "padding": 0}, "axis": null},
       "y": {"field": "k", "type": "nominal", "scale": {"type": "band", "domain": ["+10","+5","-5","-10"], "range": [778, 858], "padding": 0}, "axis": null},
       "text": {"field": "k"},
       "color": {"field": "k", "type": "nominal", "scale": {"domain": ["none","+10","+5","-5","-10"], "range": ["#1a1a1a","#ffffff","#1a1a1a","#ff0000","#99002e"]}, "legend": null}}},
    {"data": {"name": "key"},
     "transform": [{"filter": "datum.k !== '+5'"}],
     "mark": {"type": "text", "font": "DejaVu Sans", "fontSize": 15, "fontWeight": "bold"},
     "encoding": {
       "x": {"datum": "凡例", "type": "nominal", "bandPosition": 0.5, "scale": {"type": "band", "domain": ["凡例"], "range": [467, 560], "padding": 0}, "axis": null},
       "y": {"field": "k", "type": "nominal", "scale": {"type": "band", "domain": ["+10","+5","-5","-10"], "range": [778, 858], "padding": 0}, "axis": null},
       "text": {"field": "k"},
       "color": {"field": "k", "type": "nominal", "scale": {"domain": ["none","+10","+5","-5","-10"], "range": ["#1a1a1a","#ffffff","#1a1a1a","#ff0000","#99002e"]}, "legend": null}}},
    {"data": {"name": "key"},
     "mark": {"type": "text", "align": "left", "dx": 9, "fontSize": 15, "color": "#000000"},
     "encoding": {
       "x": {"datum": "凡例", "type": "nominal", "bandPosition": 1, "scale": {"type": "band", "domain": ["凡例"], "range": [467, 560], "padding": 0}, "axis": null},
       "y": {"field": "k", "type": "nominal", "scale": {"type": "band", "domain": ["+10","+5","-5","-10"], "range": [778, 858], "padding": 0}, "axis": null},
       "text": {"field": "desc"}}},
    {"data": {"name": "key"},
     "mark": {"type": "text", "align": "left", "baseline": "top", "dx": 1, "dy": 1, "font": "DejaVu Sans", "fontSize": 8, "color": "#1e7b1e"},
     "encoding": {
       "x": {"datum": "凡例", "type": "nominal", "bandPosition": 0, "scale": {"type": "band", "domain": ["凡例"], "range": [467, 560], "padding": 0}, "axis": null},
       "y": {"field": "k", "type": "nominal", "bandPosition": 0, "scale": {"type": "band", "domain": ["+10","+5","-5","-10"], "range": [778, 858], "padding": 0}, "axis": null},
       "text": {"value": "◤"}}}
  ]},

  {"data": {"values": [{"src": "出典 ： 【2017 年度】来訪者満足度調査 [株式会社アンド･デイ]"}]},
   "mark": {"type": "text", "align": "right", "fontSize": 20.5, "color": "#000000"},
   "encoding": {
     "x": {"datum": "出典", "type": "nominal", "bandPosition": 1, "scale": {"type": "band", "domain": ["出典"], "range": [0, 1241], "padding": 0}, "axis": null},
     "y": {"datum": "出典", "type": "nominal", "bandPosition": 0.5, "scale": {"type": "band", "domain": ["出典"], "range": [880, 906], "padding": 0}, "axis": null},
     "text": {"field": "src"}}},

  {"data": {"name": "notes"},
   "mark": {"type": "text", "align": "left", "fontSize": 23, "color": "#000000"},
   "encoding": {
     "x": {"datum": "注記", "type": "nominal", "bandPosition": 0, "scale": {"type": "band", "domain": ["注記"], "range": [5, 1257], "padding": 0}, "axis": null},
     "y": {"field": "line", "type": "nominal", "scale": {"type": "band", "domain": ["･[浜名湖]2017･全体では、日帰り･計が 50.8%。日帰り(半日)35.1%と一泊二日 36.7%が同程度。","･全観光圏と比べると、日帰り･計が 28.9%に対して、50.8%と約 2 倍。","･[来訪回数別]では、日帰り･計が、初めてで 48.9%、リピーターで 53.6%と約半分を占める。"], "range": [915, 1009], "padding": 0}, "axis": null},
     "text": {"field": "line"}}}
]
}
